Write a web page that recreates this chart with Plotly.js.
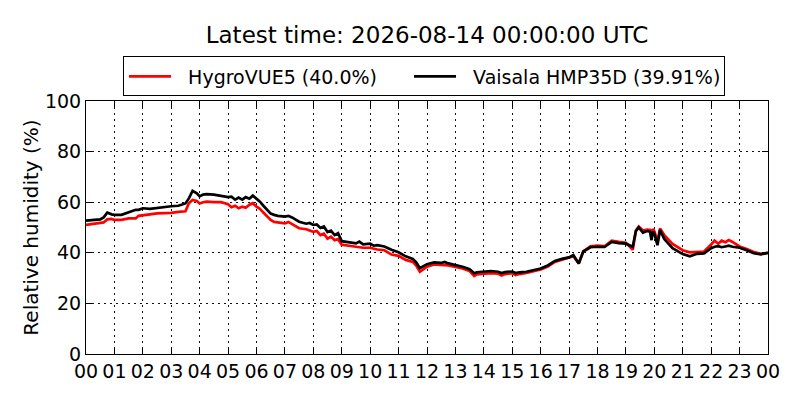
<!DOCTYPE html>
<html>
<head>
<meta charset="utf-8">
<script src="https://cdn.plot.ly/plotly-3.0.1.min.js"></script>
<style>
  html, body { margin: 0; padding: 0; background: #fff; }
  #plot { width: 800px; height: 400px; }
</style>
</head>
<body>
<div id="plot"></div>
<script>
// hours since 00:00 UTC
const hours = [
  0.00, 0.25, 0.50, 0.62, 0.75, 0.90, 1.00, 1.25, 1.50, 1.75, 1.85, 2.00,
  2.25, 2.50, 2.75, 3.00, 3.25, 3.50, 3.62, 3.75, 3.90, 4.00, 4.12, 4.25,
  4.50, 4.75, 5.00, 5.12, 5.25, 5.37, 5.50, 5.62, 5.75, 5.87, 6.00, 6.12,
  6.25, 6.50, 6.62, 6.75, 7.00, 7.12, 7.25, 7.50, 7.75, 7.87, 8.00, 8.12,
  8.25, 8.37, 8.50, 8.62, 8.75, 8.87, 9.00, 9.25, 9.50, 9.62, 9.75, 10.00,
  10.12, 10.25, 10.50, 10.75, 11.00, 11.25, 11.50, 11.62, 11.75, 12.00, 12.25, 12.50,
  12.62, 12.75, 13.00, 13.25, 13.50, 13.66, 13.75, 14.00, 14.25, 14.50, 14.62, 14.75,
  15.00, 15.12, 15.25, 15.50, 15.75, 16.00, 16.25, 16.50, 16.75, 17.00, 17.15, 17.34,
  17.50, 17.75, 18.00, 18.25, 18.50, 18.75, 19.00, 19.24, 19.35, 19.45, 19.60, 19.75,
  19.85, 19.90, 19.95, 20.00, 20.11, 20.20, 20.35, 20.64, 21.00, 21.25, 21.50, 21.75,
  22.00, 22.12, 22.25, 22.37, 22.50, 22.62, 22.75, 23.00, 23.25, 23.50, 23.75, 24.00
];

// HygroVUE5 relative humidity (%)
const hygrovue = [
  51.0, 51.4, 51.6, 52.0, 53.2, 53.4, 53.0, 53.0, 53.6, 53.6, 54.6, 54.9,
  55.2, 55.6, 55.6, 55.8, 56.2, 56.4, 59.6, 60.9, 60.5, 59.5, 60.0, 60.2,
  60.0, 60.0, 59.2, 58.0, 58.6, 57.6, 58.2, 57.8, 59.0, 59.6, 58.2, 57.4,
  55.8, 53.0, 52.2, 52.0, 51.6, 52.2, 51.4, 49.7, 49.3, 48.8, 48.3, 48.6,
  47.0, 47.6, 45.6, 46.4, 45.0, 45.4, 43.2, 42.8, 42.4, 42.0, 42.0, 42.0,
  41.6, 41.3, 41.0, 39.3, 38.8, 37.2, 36.4, 35.0, 32.5, 34.5, 35.4, 35.2,
  35.0, 35.0, 34.4, 33.8, 32.8, 30.8, 31.5, 31.8, 32.0, 31.8, 31.0, 31.6,
  32.0, 31.2, 31.6, 32.0, 32.6, 33.4, 34.6, 36.4, 37.3, 38.0, 38.7, 35.8,
  40.6, 42.6, 42.8, 42.6, 44.8, 44.3, 44.0, 41.2, 48.8, 50.4, 48.8, 49.2,
  49.0, 46.0, 49.4, 48.6, 44.5, 49.6, 47.0, 43.5, 41.0, 40.2, 40.3, 40.5,
  43.3, 44.8, 43.6, 44.8, 44.2, 45.0, 44.3, 42.5, 41.5, 40.3, 39.6, 40.0
];

// Vaisala HMP35D relative humidity (%)
const hmp35d = [
  52.7, 53.0, 53.2, 54.0, 55.9, 55.2, 55.0, 55.0, 56.0, 57.0, 57.0, 57.6,
  57.4, 57.8, 58.2, 58.4, 58.6, 59.5, 61.5, 64.5, 63.5, 62.3, 63.0, 63.2,
  63.0, 62.6, 62.0, 62.2, 61.0, 61.8, 61.0, 62.0, 61.4, 62.6, 61.5, 60.2,
  58.5, 55.5, 55.0, 54.6, 54.3, 54.6, 54.0, 52.3, 51.5, 51.8, 51.0, 51.2,
  49.8, 50.4, 48.2, 48.8, 47.0, 47.8, 44.6, 44.0, 43.7, 44.4, 43.3, 43.6,
  42.8, 43.0, 42.5, 41.2, 40.2, 38.6, 37.6, 36.2, 33.9, 35.5, 36.2, 36.0,
  36.4, 35.8, 35.2, 34.5, 33.5, 31.9, 32.3, 32.6, 32.8, 32.5, 32.0, 32.4,
  32.6, 32.0, 32.3, 32.5, 33.2, 33.8, 35.0, 36.8, 37.6, 38.2, 39.1, 35.8,
  40.5, 42.2, 42.4, 42.3, 44.3, 43.8, 43.6, 42.4, 48.5, 50.0, 48.0, 48.6,
  48.3, 45.0, 48.4, 47.6, 43.0, 49.0, 45.5, 41.8, 39.5, 38.6, 39.6, 39.8,
  41.8, 42.4, 42.6, 42.2, 42.5, 42.8, 42.4, 42.0, 41.0, 39.8, 39.4, 40.0
];

// x ticks every hour, labelled by hour of day
const tickHours = [0, 1, 2, 3, 4, 5, 6, 7, 8, 9, 10, 11, 12, 13, 14, 15, 16, 17, 18, 19, 20, 21, 22, 23, 24];
const tickLabels = ['00', '01', '02', '03', '04', '05', '06', '07', '08', '09', '10', '11',
  '12', '13', '14', '15', '16', '17', '18', '19', '20', '21', '22', '23', '00'];

const family = 'DejaVu Sans, sans-serif';
const tickFont = { family: family, size: 19, color: '#000' };

const traceHygro = {
  x: hours,
  y: hygrovue,
  type: 'scatter',
  mode: 'lines',
  name: '\u00a0\u00a0HygroVUE5 (40.0%)',
  legendwidth: 228,
  line: { color: '#ff0000', width: 2.7 }
};

const traceHmp = {
  x: hours,
  y: hmp35d,
  type: 'scatter',
  mode: 'lines',
  name: '\u00a0\u00a0Vaisala HMP35D (39.91%)',
  legendwidth: 258,
  line: { color: '#000000', width: 2.7 }
};

// shared axis look: black frame, inward ticks on all sides, dotted grid
const axisStyle = {
  showline: true,
  linecolor: '#000',
  linewidth: 1,
  mirror: 'allticks',
  ticks: 'inside',
  ticklen: 6,
  tickcolor: '#000',
  showgrid: true,
  gridcolor: '#111',
  gridwidth: 1,
  griddash: '1.5px,4.5px',
  zeroline: false,
  tickfont: tickFont
};

const layout = {
  width: 800,
  height: 400,
  margin: { l: 86, r: 32, t: 101, b: 46 },
  paper_bgcolor: '#fff',
  plot_bgcolor: '#fff',
  font: tickFont,
  title: {
    text: 'Latest time: 2026-08-14 00:00:00 UTC',
    font: { family: family, size: 23, color: '#000' },
    xref: 'paper',
    x: 0.5,
    xanchor: 'center',
    yref: 'container',
    y: 0.912,
    yanchor: 'middle'
  },
  xaxis: Object.assign({}, axisStyle, {
    range: [0, 24],
    tickmode: 'array',
    tickvals: tickHours,
    ticktext: tickLabels
  }),
  yaxis: Object.assign({}, axisStyle, {
    range: [0, 100],
    dtick: 20,
    title: { text: 'Relative humidity (%)', font: { family: family, size: 20, color: '#000' }, standoff: 0 }
  }),
  showlegend: true,
  legend: {
    orientation: 'h',
    x: 0.0543,
    xanchor: 'left',
    y: 1.176,
    yanchor: 'top',
    bgcolor: '#fff',
    bordercolor: '#000',
    borderwidth: 1,
    font: { family: family, size: 19, color: '#000' },
    itemwidth: 42,
    entrywidthmode: 'pixels',
    traceorder: 'normal'
  }
};

Plotly.newPlot('plot', [traceHygro, traceHmp], layout, { staticPlot: true });
</script>
</body>
</html>
